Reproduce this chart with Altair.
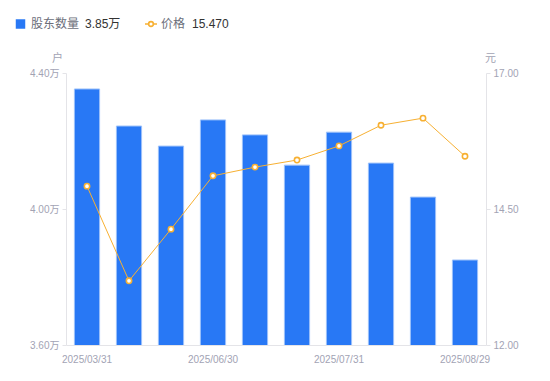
import altair as alt
import pandas as pd

dates = ["2025/03/31", "2025/04/30", "2025/05/30", "2025/06/30", "2025/07/10",
         "2025/07/20", "2025/07/31", "2025/08/10", "2025/08/20", "2025/08/29"]
holders = [4.353, 4.244, 4.185, 4.262, 4.218, 4.129, 4.226, 4.135, 4.035, 3.85]
price = [14.92, 13.18, 14.13, 15.11, 15.27, 15.40, 15.66, 16.04, 16.17, 15.47]
tick_dates = ["2025/03/31", "2025/06/30", "2025/07/31", "2025/08/29"]

df = pd.DataFrame({"date": dates, "holders": holders, "price": price})

FONT = "Liberation Sans, Noto Sans CJK SC, sans-serif"
BLUE = "#2878F5"
ORANGE = "#F7B032"
LABEL = "#A2A3B4"
AXIS = "#E4E4E8"

x = alt.X("date:N", sort=dates, title=None,
          scale=alt.Scale(paddingInner=0.4, paddingOuter=0.2),
          axis=alt.Axis(values=tick_dates, labelAngle=0, ticks=False, domainColor=AXIS,
                        labelColor=LABEL, labelFontSize=10, labelFont=FONT, labelPadding=9,
                        grid=False))

bars = alt.Chart(df).mark_bar(color=BLUE, stroke="#9CC1FA", strokeWidth=1, clip=True).encode(
    x=x,
    y=alt.Y("holders:Q", title="户",
            scale=alt.Scale(domain=[3.6, 4.4], zero=False, nice=False),
            axis=alt.Axis(values=[3.6, 4.0, 4.4], labelExpr="format(datum.value, '.2f') + '万'",
                          grid=False, domainColor=AXIS, tickColor=AXIS, tickSize=4,
                          labelColor=LABEL, labelFontSize=10, labelFont=FONT, labelPadding=3,
                          titleAngle=0, titleX=-9, titleY=-10, titleColor=LABEL,
                          titleFontSize=11, titleFontWeight="normal", titleFont=FONT,
                          titleAlign="center")),
)

line = alt.Chart(df).mark_line(
    color=ORANGE, strokeWidth=1,
    point=alt.OverlayMarkDef(shape="circle", filled=True, fill="white", stroke=ORANGE,
                             strokeWidth=1.6, size=28, opacity=1),
).encode(
    x=x,
    y=alt.Y("price:Q", title="元",
            scale=alt.Scale(domain=[12, 17], zero=False, nice=False),
            axis=alt.Axis(orient="right", values=[12, 14.5, 17], format=".2f",
                          grid=False, domainColor=AXIS, tickColor=AXIS, tickSize=4,
                          labelColor=LABEL, labelFontSize=10, labelFont=FONT, labelPadding=3,
                          titleAngle=0, titleX=4, titleY=-10, titleColor=LABEL,
                          titleFontSize=11, titleFontWeight="normal", titleFont=FONT,
                          titleAlign="center")),
)

leg_df = pd.DataFrame({"k": [0]})
leg_sq = alt.Chart(leg_df).mark_square(color=BLUE, size=90, opacity=1).encode(
    x=alt.value(-45.5), y=alt.value(-49))
leg_t1 = alt.Chart(leg_df).mark_text(text="股东数量", align="left", baseline="middle",
                                     fontSize=12, font=FONT, color="#6B6E7A").encode(
    x=alt.value(-35), y=alt.value(-49))
leg_v1 = alt.Chart(leg_df).mark_text(text=f"{holders[-1]:.2f}万", align="left", baseline="middle",
                                     fontSize=12, font=FONT, color="#333333").encode(
    x=alt.value(19), y=alt.value(-49))
leg_ln = alt.Chart(leg_df).mark_rule(color=ORANGE, strokeWidth=1.5).encode(
    x=alt.value(79), x2=alt.value(91), y=alt.value(-49))
leg_pt = alt.Chart(leg_df).mark_point(shape="circle", filled=True, fill="white", stroke=ORANGE,
                                      strokeWidth=1.6, size=22, opacity=1).encode(
    x=alt.value(85), y=alt.value(-49))
leg_t2 = alt.Chart(leg_df).mark_text(text="价格", align="left", baseline="middle",
                                     fontSize=12, font=FONT, color="#6B6E7A").encode(
    x=alt.value(95), y=alt.value(-49))
leg_v2 = alt.Chart(leg_df).mark_text(text=f"{price[-1]:.3f}", align="left", baseline="middle",
                                     fontSize=12, font=FONT, color="#333333").encode(
    x=alt.value(126), y=alt.value(-49))

chart = alt.layer(bars, line, leg_sq, leg_t1, leg_v1, leg_ln, leg_pt,
                  leg_t2, leg_v2).resolve_scale(y="independent").properties(
    width=420, height=272,
    autosize=alt.AutoSizeParams(type="none"),
    padding={"left": 58, "top": 65, "right": 56, "bottom": 28},
).configure(background="white").configure_view(stroke=None)

chart.save("out.html", embed_options={"renderer": "svg", "actions": False})
